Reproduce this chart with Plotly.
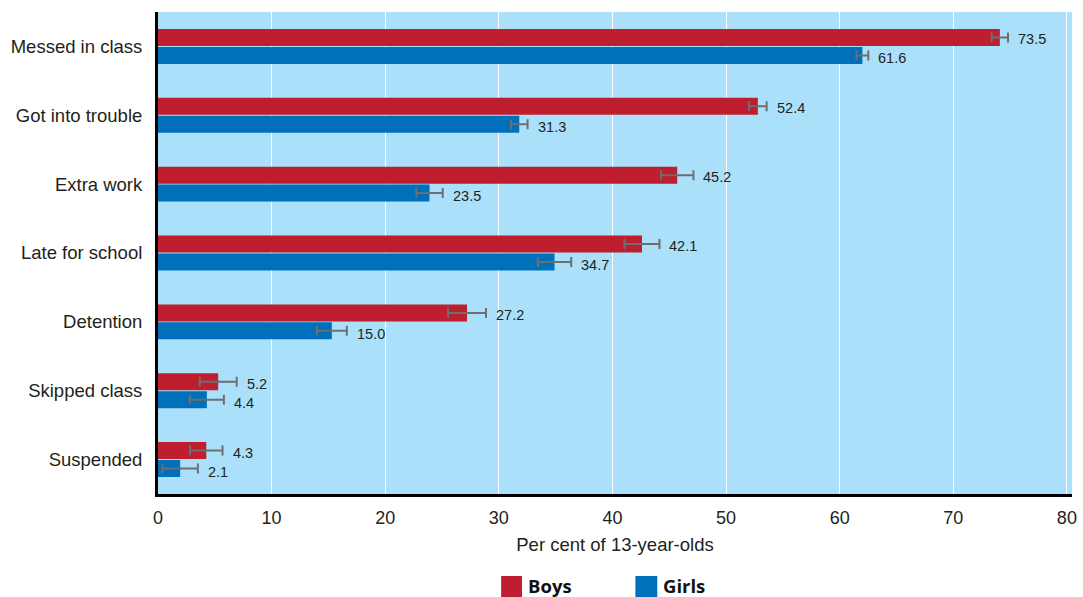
import plotly.graph_objects as go

categories = ["Messed in class", "Got into trouble", "Extra work", "Late for school",
              "Detention", "Skipped class", "Suspended"]
boys_values = [74.1, 52.8, 45.7, 42.6, 27.2, 5.3, 4.25]
girls_values = [62.0, 31.8, 23.9, 34.9, 15.3, 4.3, 1.95]
boys_err = [0.72, 0.77, 1.43, 1.54, 1.67, 1.63, 1.43]
girls_err = [0.52, 0.73, 1.16, 1.47, 1.32, 1.5, 1.56]
boys_labels = ["73.5", "52.4", "45.2", "42.1", "27.2", "5.2", "4.3"]
girls_labels = ["61.6", "31.3", "23.5", "34.7", "15.0", "4.4", "2.1"]
x_ticks = [0, 10, 20, 30, 40, 50, 60, 70, 80]

RED = "#BE1E2D"
BLUE = "#0070BA"
BG = "#ABE0FB"
ERR = "#6D6E71"
TXT = "#231F20"
FONT = "Liberation Sans, Arial, Helvetica, sans-serif"

FIG_W, FIG_H = 1083, 597
PL, PT, PR, PB = 158, 12, 6, 597 - 494
W = FIG_W - PL - PR
H = FIG_H - PT - PB

fig = go.Figure()
fig.add_trace(go.Bar(
    name="Boys", y=categories, x=boys_values, orientation="h",
    marker=dict(color=RED, line=dict(width=0)),
    error_x=dict(type="data", array=boys_err, color=ERR, thickness=2, width=5),
))
fig.add_trace(go.Bar(
    name="Girls", y=categories, x=girls_values, orientation="h",
    marker=dict(color=BLUE, line=dict(width=0)),
    error_x=dict(type="data", array=girls_err, color=ERR, thickness=2, width=5),
))

annotations = []
for cat, v, e, lab in zip(categories, boys_values, boys_err, boys_labels):
    annotations.append(dict(x=v + e, y=cat, xref="x", yref="y", text=lab,
                            showarrow=False, xanchor="left", yanchor="middle",
                            xshift=8, yshift=7, font=dict(family=FONT, size=14.5, color=TXT)))
for cat, v, e, lab in zip(categories, girls_values, girls_err, girls_labels):
    annotations.append(dict(x=v + e, y=cat, xref="x", yref="y", text=lab,
                            showarrow=False, xanchor="left", yanchor="middle",
                            xshift=8, yshift=-12, font=dict(family=FONT, size=14.5, color=TXT)))

# custom legend (positions in reference pixels -> paper coords)
def px_x(p):
    return (p - PL) / W
def px_y(p):
    return (FIG_H - PB - p) / H

shapes = [
    dict(type="rect", xref="paper", yref="paper", x0=px_x(503), x1=px_x(524),
         y0=px_y(597), y1=px_y(576), fillcolor=RED, line=dict(width=0)),
    dict(type="rect", xref="paper", yref="paper", x0=px_x(638), x1=px_x(660),
         y0=px_y(597), y1=px_y(576), fillcolor=BLUE, line=dict(width=0)),
]
legend_font = dict(family="Open Sans, Noto Sans, sans-serif", size=18.5, color="#111111")
annotations.append(dict(x=px_x(528), y=px_y(585), xref="paper", yref="paper", text="<b>Boys</b>",
                        showarrow=False, xanchor="left", yanchor="middle", font=legend_font))
annotations.append(dict(x=px_x(664), y=px_y(585), xref="paper", yref="paper", text="<b>Girls</b>",
                        showarrow=False, xanchor="left", yanchor="middle", font=legend_font))

fig.update_layout(
    width=FIG_W, height=FIG_H,
    margin=dict(l=PL, r=PR, t=PT, b=PB),
    paper_bgcolor="white", plot_bgcolor=BG,
    barmode="group", bargap=0.48, bargroupgap=0.05,
    showlegend=False,
    font=dict(family=FONT, size=18.5, color=TXT),
    annotations=annotations, shapes=shapes,
    xaxis=dict(range=[0, 80.45], tickvals=x_ticks, showgrid=True, gridcolor="white", gridwidth=1,
               zeroline=False, showline=True, linecolor="black", linewidth=3,
               ticks="outside", ticklen=5, tickcolor="rgba(0,0,0,0)",
               tickfont=dict(size=18),
               title=dict(text="Per cent of 13-year-olds", font=dict(size=18.5), standoff=12)),
    yaxis=dict(autorange="reversed", showgrid=False, showline=True, linecolor="black",
               linewidth=3, ticks="outside", ticklen=9, tickcolor="rgba(0,0,0,0)",
               tickfont=dict(size=18.5)),
)

fig.write_html(
    "out.html",
    config={"displayModeBar": False},
    post_script="document.body.style.margin='0';document.body.style.overflow='hidden';",
)
